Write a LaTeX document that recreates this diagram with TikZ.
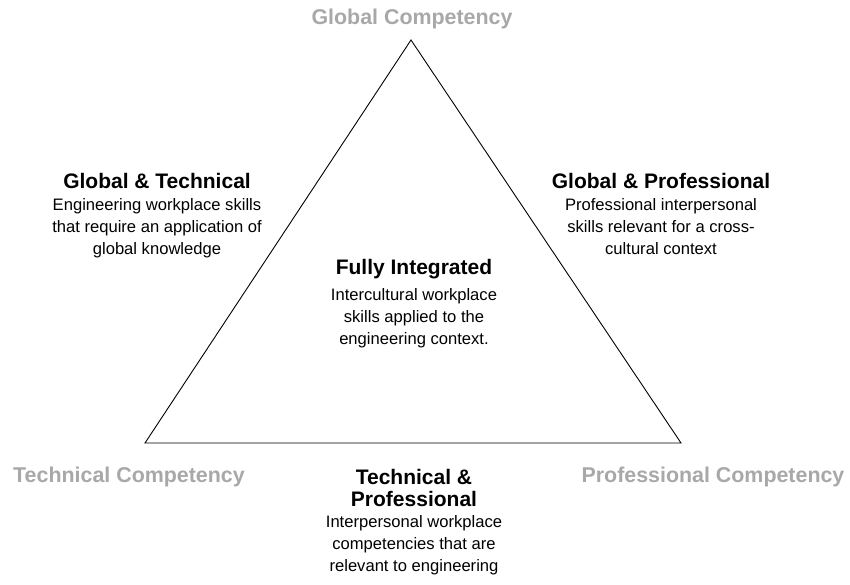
\documentclass[tikz,border=0pt]{standalone}
\usepackage{fontspec}
\setmainfont{Liberation Sans}
\usetikzlibrary{positioning}
\definecolor{cornergray}{RGB}{168,168,168}
\tikzset{
    corner/.style={font=\fontsize{21.4}{22}\selectfont\bfseries, text=cornergray, inner sep=0pt},
    pairtitle/.style={font=\fontsize{21}{22}\selectfont\bfseries, align=center, inner sep=0pt},
    pairtext/.style={font=\fontsize{16.6}{22}\selectfont, align=center, inner sep=0pt},
    edge/.style={line width=0.9pt, line join=miter},
}
\begin{document}
\begin{tikzpicture}[x=1pt, y=-1pt]
    \useasboundingbox (0,0) rectangle (850,585);
    % the triangle
    \coordinate (top) at (411,40);
    \coordinate (left) at (145,443);
    \coordinate (right) at (681,443);
    \draw[edge] (top) -- (left) -- (right) -- cycle;
    % corner labels
    \node[corner] (global) at (412,19) {Global Competency};
    \node[corner] (technical) at (129,477) {Technical Competency};
    \node[corner] (professional) at (713,477) {Professional Competency};
    % overlaps
    \node[pairtitle] (gt) at (157,181) {Global \& Technical};
    \node[pairtext, below=9pt of gt] (gttext) {Engineering workplace skills\\that require an application of\\global knowledge};
    \node[pairtitle] (gp) at (661,181) {Global \& Professional};
    \node[pairtext, below=9pt of gp] (gptext) {Professional interpersonal\\skills relevant for a cross-\\cultural context};
    \node[pairtitle] (full) at (414,269) {Fully Integrated};
    \node[pairtext, below=9pt of full] (fulltext) {Intercultural workplace\\skills applied to the\\engineering context.};
    \node[pairtitle, anchor=north] (tp) at (414,469) {Technical \&\\Professional};
    \node[pairtext, below=8pt of tp] (tptext) {Interpersonal workplace\\competencies that are\\relevant to engineering};
\end{tikzpicture}
\end{document}
